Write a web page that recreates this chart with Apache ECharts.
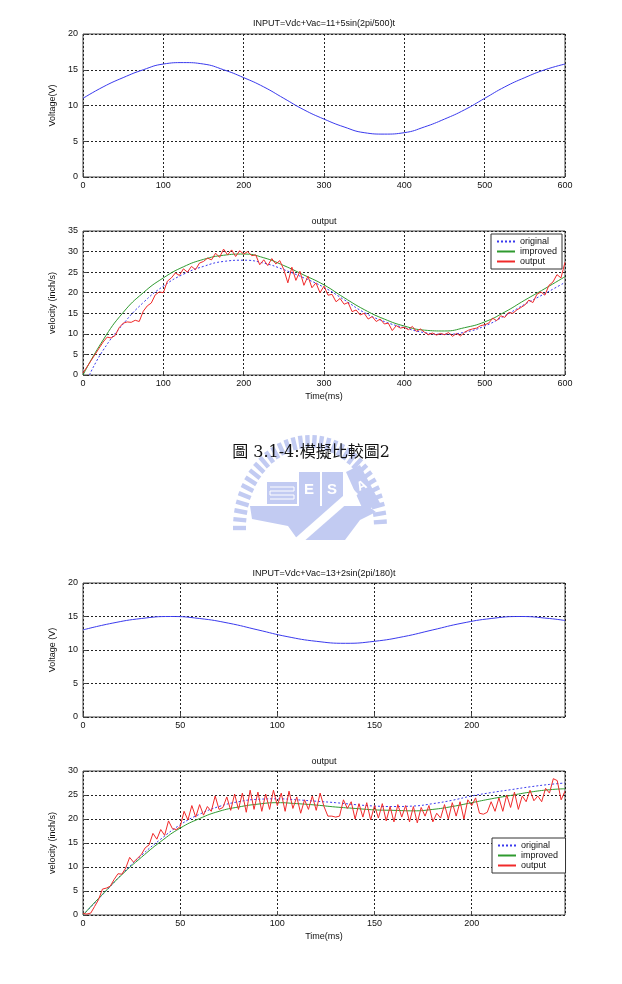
<!DOCTYPE html>
<html>
<head>
<meta charset="utf-8">
<script src="https://cdn.jsdelivr.net/npm/echarts@6/dist/echarts.min.js"></script>
<style>
  html, body { margin: 0; padding: 0; background: #fff; }
  #chart { width: 622px; height: 984px; }
</style>
</head>
<body>
<div id="chart"></div>
<script>
// 图1: 输入电压 11+5sin(2pi/500)t, 每 25ms 读一个点
const t25 = Array.from({ length: 25 }, (_, i) => i * 25)
const input1 = [11.0, 12.6, 13.9, 15.0, 15.8, 16.0, 15.8, 15.0, 13.9, 12.6, 11.0, 9.4, 8.1,
  7.0, 6.2, 6.0, 6.2, 7.0, 8.1, 9.4, 11.0, 12.6, 13.9, 15.0, 15.8]

// 图2: output (0-600ms)
const origT2 = [8].concat(t25.slice(1))
const original2 = [0, 6.0, 12.4, 17.6, 21.6, 24.5, 26.4, 27.6, 27.9, 27.2, 25.6, 23.6, 21.3,
  18.3, 15.2, 13.0, 11.5, 10.3, 9.9, 10.4, 11.9, 14.4, 17.2, 19.8, 22.5]
const improved2 = [0, 8.5, 15.2, 20.0, 23.6, 26.3, 28.1, 29.1, 29.4, 28.5, 26.6, 24.3, 21.9,
  18.8, 15.9, 13.6, 11.9, 10.9, 10.7, 11.5, 12.9, 15.3, 18.2, 21.0, 23.9]
const output2 = [0.5, 2.0, 3.5, 5.0, 6.5, 8.0, 9.2, 9.0, 9.6, 11.5, 12.6, 12.9, 12.8, 13.3, 13.0,
  15.5, 16.8, 17.5, 19.5, 20.2, 20.0, 22.8, 23.6, 24.8, 24.2, 25.8, 25.0, 26.4, 25.6, 27.2,
  27.6, 28.4, 28.0, 29.6, 28.6, 30.6, 29.2, 30.4, 28.8, 30.2, 29.4, 30.0, 29.0, 29.2, 26.8,
  28.0, 26.6, 28.3, 27.0, 27.8, 25.6, 22.4, 26.2, 23.0, 25.2, 21.8, 24.0, 21.2, 22.4, 20.0,
  21.6, 19.4, 19.6, 17.8, 18.6, 17.2, 17.6, 15.4, 15.8, 14.6, 15.0, 13.6, 14.2, 13.0, 13.6,
  12.4, 12.6, 10.8, 12.0, 11.4, 11.6, 11.0, 11.8, 10.6, 11.2, 10.4, 9.8, 10.2, 9.7, 10.1,
  9.8, 10.3, 9.4, 10.1, 9.5, 10.4, 10.9, 11.2, 11.4, 12.0, 12.2, 12.6, 13.8, 13.2, 14.4,
  14.0, 15.2, 15.0, 15.8, 16.4, 17.0, 18.2, 17.6, 19.6, 20.2, 19.4, 21.8, 22.6, 24.4, 23.6, 27.4]
const outT2 = output2.map((_, i) => i * 5)

// 图3: 输入电压 13+2sin(2pi/180)t
const inT3 = [0, 15, 30, 45, 60, 75, 90, 105, 120, 135, 150, 165, 180, 195, 210, 225, 240, 248]
const input3 = [13.0, 14.0, 14.7, 15.0, 14.7, 14.0, 13.0, 12.0, 11.3, 11.0, 11.3, 12.0, 13.0,
  14.0, 14.7, 15.0, 14.7, 14.4]

// 图4: output (0-248ms)
const t10 = [0, 10, 20, 30, 40, 50, 60, 70, 80, 90, 100, 110, 120, 130, 140, 150, 160, 170,
  180, 190, 200, 210, 220, 230, 240, 248]
const original4 = [0, 4.2, 8.5, 12.4, 15.8, 18.8, 21.0, 22.6, 23.6, 24.1, 24.2, 24.0, 23.7,
  23.4, 23.0, 22.7, 22.6, 22.7, 23.2, 23.9, 24.8, 25.5, 26.1, 26.7, 27.2, 27.5]
const improved4 = [0, 4.3, 8.4, 12.0, 15.3, 18.1, 20.1, 21.6, 22.5, 23.1, 23.4, 23.2, 22.9,
  22.5, 22.2, 21.9, 21.8, 21.7, 22.0, 22.6, 23.4, 24.2, 24.9, 25.6, 26.1, 26.3]
const output4 = [0.3, 0.2, 0.4, 1.8, 3.2, 5.4, 5.6, 6.0, 7.4, 8.6, 8.5, 9.8, 12.0, 11.0, 11.8,
  12.6, 14.0, 14.6, 17.0, 15.8, 17.8, 16.6, 19.6, 18.0, 17.8, 18.4, 21.6, 19.8, 22.8, 20.4,
  23.0, 20.8, 22.6, 21.6, 24.8, 22.0, 22.4, 24.6, 21.8, 25.2, 22.0, 25.4, 21.4, 26.0, 22.0,
  25.6, 21.6, 25.2, 22.0, 26.0, 22.8, 25.4, 21.6, 25.8, 22.2, 24.6, 21.2, 24.0, 22.0, 24.8,
  21.8, 25.4, 22.6, 20.6, 20.6, 20.4, 20.6, 24.0, 22.2, 23.6, 20.0, 23.2, 20.4, 23.4, 19.8,
  22.8, 20.2, 23.2, 19.6, 22.6, 19.4, 23.0, 20.4, 22.8, 19.4, 22.6, 19.2, 22.4, 20.6, 22.8,
  19.4, 21.2, 20.2, 23.0, 20.0, 23.4, 20.6, 23.6, 20.0, 24.0, 22.8, 24.4, 21.2, 21.0, 21.4,
  23.6, 21.6, 24.4, 21.6, 25.0, 22.4, 25.6, 22.0, 24.8, 23.6, 26.0, 23.8, 24.8, 23.6, 26.4,
  25.4, 28.4, 28.0, 24.0, 25.8]
const outT4 = output4.map((_, i) => i * 2)

const zip = (xs, ys) => xs.map((x, i) => [x, ys[i]])

const FONT = 'Liberation Sans'
const BLUE = '#3a3aee'
const GREEN = '#2f9a2f'
const RED = '#f02a2a'
const LOGO = '#c2cbf2'

const chart = echarts.init(document.getElementById('chart'))

// 坐标系位置
const grids = [
  { left: 83, top: 34, width: 482, height: 143 },
  { left: 83, top: 231, width: 482, height: 144 },
  { left: 83, top: 583, width: 482, height: 134 },
  { left: 83, top: 771, width: 482, height: 144 }
].map(g => Object.assign(g, { show: true, borderColor: '#444', borderWidth: 1, backgroundColor: '#fff' }))

const splitLine = { show: true, lineStyle: { color: '#222', type: [2, 2], width: 1 } }
const label = { fontFamily: FONT, fontSize: 9, color: '#111' }

const xAxis = (idx, max, interval, name) => ({
  type: 'value', gridIndex: idx, min: 0, max, interval,
  axisLine: { show: false },
  axisTick: { inside: true, length: 4, lineStyle: { color: '#444' } },
  axisLabel: Object.assign({ margin: 4, showMaxLabel: max % interval === 0 }, label),
  splitLine,
  name, nameLocation: 'middle', nameGap: 17,
  nameTextStyle: label
})

const yAxis = (idx, max, name) => ({
  type: 'value', gridIndex: idx, min: 0, max, interval: 5,
  axisLine: { show: false },
  axisTick: { inside: true, length: 4, lineStyle: { color: '#444' } },
  axisLabel: Object.assign({ margin: 5 }, label),
  splitLine,
  name, nameLocation: 'middle', nameRotate: 90, nameGap: 13,
  nameTextStyle: label
})

const line = (name, idx, data, color, dotted, smooth) => ({
  name, type: 'line', xAxisIndex: idx, yAxisIndex: idx,
  data, showSymbol: false, symbol: 'none', smooth: smooth || false,
  lineStyle: { color, width: 1, type: dotted ? [2, 2] : 'solid' },
  itemStyle: { color },
  animation: false
})

const legendBase = {
  orient: 'vertical', padding: [3, 5, 3, 5], itemGap: 1,
  itemWidth: 18, itemHeight: 9,
  itemStyle: { opacity: 0 },
  borderColor: '#333', borderWidth: 1, backgroundColor: '#fff',
  textStyle: { fontFamily: FONT, fontSize: 9, color: '#111' },
  selectedMode: false
}

// 校徽水印(装饰)
const ring = []
for (let a = 180; a >= 0; a -= 5.5) {
  const r = a * Math.PI / 180
  ring.push({
    type: 'rect', x: 310 + Math.cos(r) * 64, y: 528 - Math.sin(r) * 80,
    rotation: r - Math.PI / 2,
    shape: { x: -2.2, y: -13, width: 4.4, height: 13 },
    style: { fill: LOGO }, silent: true, z: -1
  })
}
const logo = (shape, type) => ({ type: type || 'rect', shape, style: { fill: LOGO }, silent: true, z: -1 })

const option = {
  animation: false,
  title: [
    { text: 'INPUT=Vdc+Vac=11+5sin(2pi/500)t', top: 19 },
    { text: 'output', top: 217 },
    { text: 'INPUT=Vdc+Vac=13+2sin(2pi/180)t', top: 569 },
    { text: 'output', top: 757 }
  ].map(t => Object.assign(t, {
    left: 324, textAlign: 'center', padding: 0,
    textStyle: { fontFamily: FONT, fontSize: 9, fontWeight: 'normal', color: '#111' }
  })),
  grid: grids,
  xAxis: [
    xAxis(0, 600, 100, ''),
    xAxis(1, 600, 100, 'Time(ms)'),
    xAxis(2, 248, 50, ''),
    xAxis(3, 248, 50, 'Time(ms)')
  ],
  yAxis: [
    yAxis(0, 20, 'Voltage(V)'),
    yAxis(1, 35, 'velocity (inch/s)'),
    yAxis(2, 20, 'Voltage (V)'),
    yAxis(3, 30, 'velocity (inch/s)')
  ],
  legend: [
    Object.assign({ left: 491, top: 234, data: ['original', 'improved', 'output'] }, legendBase),
    Object.assign({ left: 492, top: 838, data: ['original ', 'improved ', 'output '] }, legendBase)
  ],
  graphic: ring.concat([
    logo({ x: 267, y: 482, width: 30, height: 22 }),
    logo({ x: 299, y: 472, width: 21, height: 34 }),
    logo({ x: 322, y: 472, width: 21, height: 34 }),
    logo({ points: [[346, 472], [360, 465], [380, 503], [364, 512]] }, 'polygon'),
    logo({ points: [[250, 506], [368, 506], [376, 512], [360, 520], [345, 540], [298, 540], [288, 526], [252, 519]] }, 'polygon'),
    { type: 'polygon', shape: { points: [[292, 541], [352, 488], [358, 494], [302, 543]] }, style: { fill: '#fff' }, silent: true, z: -1 },
    { type: 'polyline', shape: { points: [[270, 487], [294, 487], [294, 491], [270, 491], [270, 495], [294, 495], [294, 499], [270, 499]] }, style: { stroke: '#fff', lineWidth: 1, fill: null }, silent: true, z: -1 },
    { type: 'text', style: { text: 'E', x: 309, y: 490, fill: '#fff', font: 'bold 15px Liberation Sans', align: 'center', verticalAlign: 'middle' }, silent: true, z: -1 },
    { type: 'text', style: { text: 'S', x: 332, y: 490, fill: '#fff', font: 'bold 15px Liberation Sans', align: 'center', verticalAlign: 'middle' }, silent: true, z: -1 },
    { type: 'text', rotation: 0.45, x: 362, y: 486, style: { text: 'A', x: 0, y: 0, fill: '#fff', font: 'bold 13px Liberation Sans', align: 'center', verticalAlign: 'middle' }, silent: true, z: -1 },
    { type: 'text', style: { text: '圖 3.1-4:模擬比較圖2', x: 311, y: 453, fill: '#111', font: '16px "DejaVu Serif", "Noto Sans CJK TC"', align: 'center', verticalAlign: 'middle' }, silent: true }
  ]),
  series: [
    line('input1', 0, zip(t25, input1), BLUE, false, true),
    line('original', 1, zip(origT2, original2), BLUE, true, true),
    line('improved', 1, zip(t25, improved2), GREEN, false, true),
    line('output', 1, zip(outT2, output2), RED, false, false),
    line('input3', 2, zip(inT3, input3), BLUE, false, true),
    line('original ', 3, zip(t10, original4), BLUE, true, true),
    line('improved ', 3, zip(t10, improved4), GREEN, false, true),
    line('output ', 3, zip(outT4, output4), RED, false, false)
  ]
}

chart.setOption(option)
</script>
</body>
</html>
